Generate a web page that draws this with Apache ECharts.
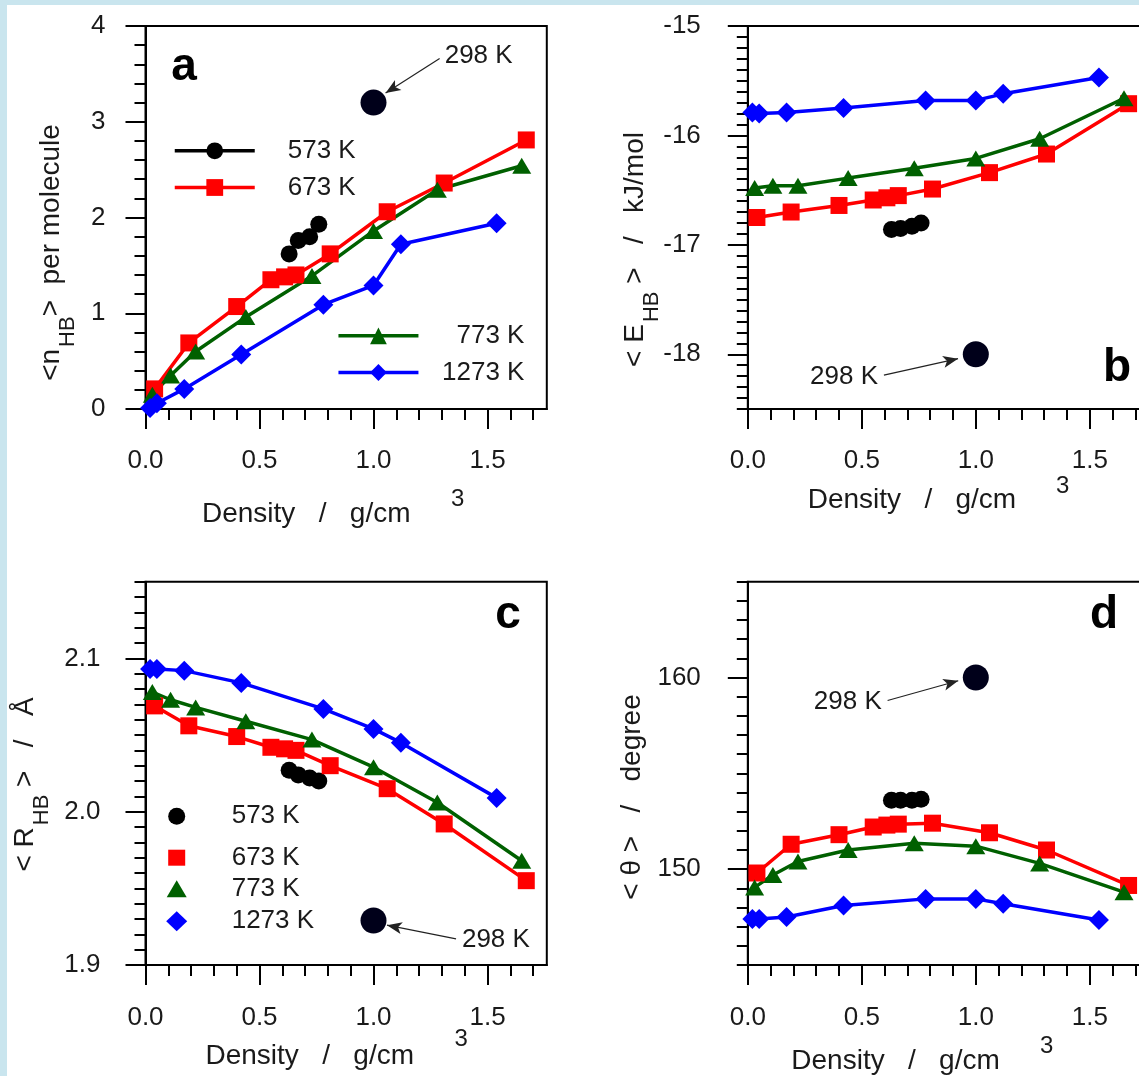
<!DOCTYPE html>
<html>
<head>
<meta charset="utf-8">
<script src="https://cdn.jsdelivr.net/npm/echarts@6/dist/echarts.min.js"></script>
<style>
  html, body { margin: 0; padding: 0; }
  #wrap { position: relative; width: 1139px; height: 1076px; background: #c9e5ee; overflow: hidden; }
  #paper { position: absolute; left: 7px; top: 5px; right: 0; bottom: 0; background: #fff; }
  #chart { position: absolute; left: 0; top: 0; width: 1139px; height: 1076px; }
</style>
</head>
<body>
<div id="wrap"><div id="paper"></div><div id="chart"></div></div>
<script>
var FONT = '"Liberation Sans", Arial, sans-serif';
var TXT = '#1a1a1a';

// densities (g/cm3) for each isotherm
var dens573 = [0.63, 0.67, 0.72, 0.76];
var dens673 = [0.04, 0.19, 0.40, 0.55, 0.61, 0.66, 0.81, 1.06, 1.31, 1.67];
var dens773 = [0.03, 0.11, 0.22, 0.44, 0.73, 1.00, 1.28, 1.65];
var dens1273 = [0.02, 0.05, 0.17, 0.42, 0.78, 1.00, 1.12, 1.54];
var dens298 = [1.00];

// a: <nHB> per molecule
var nHB573 = [1.62, 1.76, 1.80, 1.93];
var nHB673 = [0.21, 0.69, 1.07, 1.35, 1.38, 1.40, 1.62, 2.06, 2.36, 2.81];
var nHB773 = [0.15, 0.35, 0.60, 0.96, 1.39, 1.86, 2.29, 2.54];
var nHB1273 = [0.01, 0.06, 0.21, 0.57, 1.09, 1.29, 1.72, 1.94];
var nHB298 = [3.20];

// b: <EHB> kJ/mol
var EHB573 = [-16.86, -16.85, -16.83, -16.80];
var EHB673 = [-16.75, -16.70, -16.64, -16.59, -16.57, -16.55, -16.49, -16.34, -16.17, -15.71];
var EHB773 = [-16.48, -16.46, -16.46, -16.39, -16.30, -16.21, -16.03, -15.66];
var EHB1273 = [-15.79, -15.80, -15.79, -15.75, -15.68, -15.68, -15.62, -15.47];
var EHB298 = [-18.0];

// c: <RHB> angstrom
var RHB573 = [2.027, 2.024, 2.022, 2.020];
var RHB673 = [2.069, 2.056, 2.049, 2.042, 2.041, 2.040, 2.030, 2.015, 1.992, 1.955];
var RHB773 = [2.078, 2.073, 2.068, 2.059, 2.047, 2.029, 2.006, 1.968];
var RHB1273 = [2.093, 2.093, 2.092, 2.084, 2.067, 2.054, 2.045, 2.009];
var RHB298 = [1.929];

// d: <theta> degree
var th573 = [153.6, 153.6, 153.6, 153.65];
var th673 = [149.8, 151.3, 151.8, 152.2, 152.3, 152.35, 152.4, 151.9, 151.0, 149.15];
var th773 = [149.05, 149.7, 150.4, 151.0, 151.35, 151.2, 150.3, 148.8];
var th1273 = [147.4, 147.4, 147.5, 148.1, 148.45, 148.45, 148.2, 147.35];
var th298 = [160.0];

// tick labels
var xTicks = [0, 0.5, 1.0, 1.5];
var yTicksA = [0, 1, 2, 3, 4];
var yTicksB = [-18, -17, -16, -15];
var yTicksC = [1.9, 2.0, 2.1];
var yTicksD = [150, 160];

function range(a, b, step) {
  var out = [];
  var n = Math.round((b - a) / step);
  for (var i = 0; i <= n; i++) out.push(Math.round((a + i * step) * 1000) / 1000);
  return out;
}

var temps = [
  {name: '573 K', color: '#000000', symbol: 'circle', size: 17, dens: dens573},
  {name: '673 K', color: '#ff0000', symbol: 'rect', size: 17, dens: dens673},
  {name: '773 K', color: '#006000', symbol: 'triangle', size: [19, 16], dens: dens773},
  {name: '1273 K', color: '#0000ff', symbol: 'diamond', size: 20, dens: dens1273}
];

var panels = [
  {left: 145.5, top: 26, height: 383, yMin: 0, yMax: 4, yTicks: yTicksA, yStep: 0.2, dec: 0,
   yMargin: 40, xMargin: 39, vals: [nHB573, nHB673, nHB773, nHB1273], hot: nHB298,
   arrow: [[1.29, 3.66], [1.053, 3.30]]},
  {left: 747.8, top: 26, height: 383, yMin: -18.5, yMax: -15, yTicks: yTicksB, yStep: 0.1, dec: 0,
   yMargin: 47, xMargin: 39, vals: [EHB573, EHB673, EHB773, EHB1273], hot: EHB298,
   arrow: [[0.597, -18.19], [0.922, -18.04]]},
  {left: 145.5, top: 581.7, height: 383.3, yMin: 1.9, yMax: 2.15, yTicks: yTicksC, yStep: 0.01, dec: 1,
   yMargin: 45, xMargin: 40, vals: [RHB573, RHB673, RHB773, RHB1273], hot: RHB298,
   arrow: [[1.362, 1.917], [1.059, 1.926]]},
  {left: 747.8, top: 581.7, height: 383.3, yMin: 145, yMax: 165, yTicks: yTicksD, yStep: 1, dec: 0,
   yMargin: 47, xMargin: 40, vals: [th573, th673, th773, th1273], hot: th298,
   arrow: [[0.613, 158.8], [0.923, 159.83]]}
];

var lineBlack = {color: '#000', width: 2};
var labelFont = {fontSize: 26, color: TXT, fontFamily: FONT};

var grids = [], xAxes = [], yAxes = [], series = [];

panels.forEach(function (p, i) {
  grids.push({left: p.left, top: p.top, width: 401.3, height: p.height, show: true,
    borderColor: '#000', borderWidth: 2, backgroundColor: 'transparent',
    containLabel: false, outerBoundsMode: 'none'});

  xAxes.push({type: 'value', gridIndex: i, min: 0, max: 1.76, position: 'bottom',
    axisLine: {show: true, onZero: false, lineStyle: lineBlack},
    axisTick: {show: true, inside: false, length: 20, lineStyle: lineBlack, customValues: xTicks},
    axisLabel: Object.assign({customValues: xTicks, margin: p.xMargin,
      formatter: function (v) { return v.toFixed(1); }}, labelFont),
    splitLine: {show: false}});
  xAxes.push({type: 'value', gridIndex: i, min: 0, max: 1.76, position: 'bottom',
    axisLine: {show: false, onZero: false},
    axisTick: {show: true, inside: false, length: 11, lineStyle: lineBlack, customValues: range(0, 1.7, 0.1)},
    axisLabel: {show: false}, splitLine: {show: false}});

  yAxes.push({type: 'value', gridIndex: i, min: p.yMin, max: p.yMax, position: 'left',
    axisLine: {show: true, onZero: false, lineStyle: lineBlack},
    axisTick: {show: true, inside: false, length: 20, lineStyle: lineBlack, customValues: p.yTicks},
    axisLabel: Object.assign({customValues: p.yTicks, margin: p.yMargin,
      formatter: function (v) { return v.toFixed(p.dec); }}, labelFont),
    splitLine: {show: false}});
  yAxes.push({type: 'value', gridIndex: i, min: p.yMin, max: p.yMax, position: 'left',
    axisLine: {show: false, onZero: false},
    axisTick: {show: true, inside: false, length: 11, lineStyle: lineBlack, customValues: range(p.yMin, p.yMax, p.yStep)},
    axisLabel: {show: false}, splitLine: {show: false}});

  temps.forEach(function (t, k) {
    series.push({type: 'line', name: t.name, xAxisIndex: 2 * i, yAxisIndex: 2 * i,
      data: t.dens.map(function (d, j) { return [d, p.vals[k][j]]; }),
      symbol: t.symbol, symbolSize: t.size, showSymbol: true, showAllSymbol: true,
      lineStyle: {color: t.color, width: 3.5}, itemStyle: {color: t.color, borderWidth: 0, opacity: 1},
      emphasis: {disabled: true}});
  });

  series.push({type: 'scatter', name: '298 K', xAxisIndex: 2 * i, yAxisIndex: 2 * i,
    data: dens298.map(function (d, j) { return [d, p.hot[j]]; }),
    symbol: 'circle', symbolSize: 26, itemStyle: {color: '#00001a', opacity: 1}, z: 5,
    emphasis: {disabled: true},
    markLine: {silent: true, symbol: ['none', 'arrow'], symbolSize: [9, 15],
      lineStyle: {color: '#222', width: 1.2, type: 'solid'},
      label: Object.assign({show: true, position: 'start', formatter: '298 K', distance: 6}, labelFont),
      emphasis: {disabled: true},
      data: [[{coord: p.arrow[0]}, {coord: p.arrow[1]}]]}});
});

function legendBase(name, left, cy, w, h, extra) {
  return Object.assign({data: [name], left: left, top: cy - h / 2, orient: 'vertical', padding: 0,
    itemWidth: w, itemHeight: h, itemGap: 0, selectedMode: false,
    itemStyle: {borderWidth: 0}, lineStyle: {width: 3.5},
    textStyle: {fontSize: 26, lineHeight: h, color: TXT, fontFamily: FONT}}, extra || {});
}

function symLegend(name, icon, cy, w, h) {
  var left = 176.7 - w / 2;
  return legendBase(name, left, cy, w, h, {
    data: [{name: name, icon: icon}], symbolKeepAspect: false,
    textStyle: {fontSize: 26, lineHeight: h, color: TXT, fontFamily: FONT,
      padding: [0, 0, 0, 231.7 - (left + w + 5)]}});
}

function rightLegend(name, cy) {
  return legendBase(name, 336.7, cy, 80, 21, {
    formatter: '{r|{name}}',
    textStyle: {rich: {r: {width: 101, align: 'right', fontSize: 26, lineHeight: 21, color: TXT, fontFamily: FONT}}}});
}

var legends = [
  legendBase('573 K', 173, 148.3, 80, 21, {textStyle: {fontSize: 26, lineHeight: 21, color: TXT, fontFamily: FONT, padding: [0, 0, 0, 28]}}),
  legendBase('673 K', 173, 185, 80, 21, {textStyle: {fontSize: 26, lineHeight: 21, color: TXT, fontFamily: FONT, padding: [0, 0, 0, 28]}}),
  rightLegend('773 K', 333.3),
  rightLegend('1273 K', 370),
  symLegend('573 K', 'circle', 811.7, 17, 17),
  symLegend('673 K', 'rect', 852.7, 17, 16),
  symLegend('773 K', 'triangle', 884.3, 20, 17),
  symLegend('1273 K', 'diamond', 918.3, 21, 20)
];

function yTitle(x, y, text) {
  return {type: 'text', x: x, y: y, rotation: Math.PI / 2, silent: true,
    style: {text: text, align: 'center', verticalAlign: 'middle', fill: TXT,
      fontSize: 28, fontFamily: FONT,
      rich: {
        m: {font: '28px ' + FONT, fontSize: 28, fontFamily: FONT, fill: TXT, lineHeight: 34},
        s: {font: '22px ' + FONT, fontSize: 22, fontFamily: FONT, fill: TXT, lineHeight: 22, padding: [34, 0, 0, 2]}
      }}};
}

function xTitle(x, y, x3, y3) {
  return [
    {type: 'text', x: x, y: y, silent: true,
     style: {text: 'Density   /   g/cm', align: 'left', verticalAlign: 'middle', fill: TXT, fontSize: 28, fontFamily: FONT}},
    {type: 'text', x: x3, y: y3, silent: true,
     style: {text: '3', align: 'left', verticalAlign: 'middle', fill: TXT, fontSize: 24, fontFamily: FONT}}
  ];
}

function letter(x, y, t) {
  return {type: 'text', x: x, y: y, silent: true,
    style: {text: t, align: 'center', verticalAlign: 'middle', fill: '#000', fontSize: 46, fontWeight: 'bold', fontFamily: FONT}};
}

var graphics = [
  yTitle(51, 252.5, '{m|<n}{s|HB}{m|>  per molecule}'),
  yTitle(635, 249.5, '{m|< E}{s|HB}{m| >   /   kJ/mol}'),
  yTitle(25, 784.5, '{m|< R}{s|HB}{m| >   /   Å}'),
  yTitle(632.5, 797, '{m|< θ >   /   degree}'),
  letter(184, 67, 'a'), letter(1117, 368, 'b'), letter(508, 615, 'c'), letter(1104, 615, 'd')
].concat(xTitle(202, 514, 451, 499), xTitle(807.7, 500, 1056, 486),
         xTitle(205.5, 1056, 454.5, 1039), xTitle(791.3, 1061, 1040, 1046));

var chart = echarts.init(document.getElementById('chart'), null, {renderer: 'canvas'});
chart.setOption({
  animation: false,
  backgroundColor: 'transparent',
  textStyle: {fontFamily: FONT},
  grid: grids,
  xAxis: xAxes,
  yAxis: yAxes,
  legend: legends,
  graphic: graphics,
  series: series
});
</script>
</body>
</html>
